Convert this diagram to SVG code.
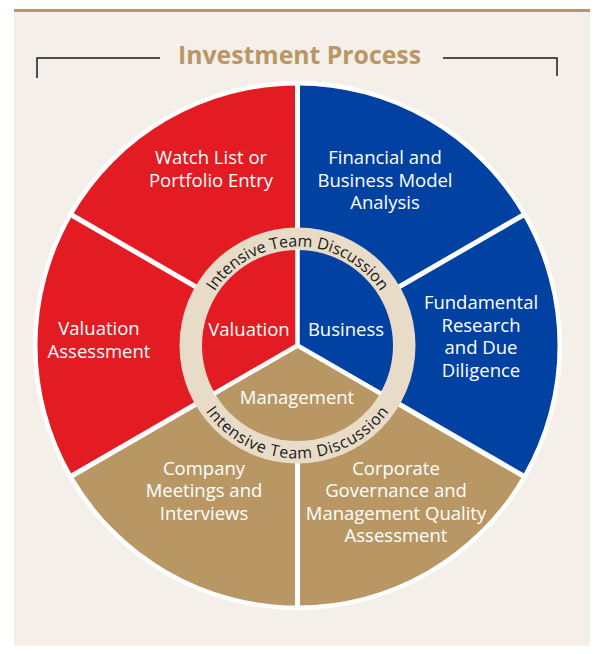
<svg xmlns="http://www.w3.org/2000/svg" xmlns:xlink="http://www.w3.org/1999/xlink" width="598" height="654" viewBox="0 0 598 654">
<style>
.lbl{font-family:"Open Sans","Noto Sans","Liberation Sans",sans-serif;font-size:18.5px;fill:#ffffff;text-anchor:middle}
.ring{font-family:"Open Sans","Noto Sans","Liberation Sans",sans-serif;font-size:16px;fill:#1a1a1a}
.div{stroke:#ffffff;stroke-width:5;fill:none}
.red{fill:#e31b23}
.blue{fill:#0041a2}
.tan{fill:#b99764}
</style>
<defs>
<path id="topArc" d="M198.5,345.5 A99,99 0 0 1 396.5,345.5"/>
<path id="botArc" d="M184.5,345.5 A113,113 0 0 0 410.5,345.5"/>
</defs>
<rect x="0" y="0" width="598" height="654" fill="#ffffff"/>
<rect x="14" y="10" width="576" height="636" fill="#f4efe8"/>
<rect x="14" y="9" width="576" height="3" fill="#b99764"/>
<g id="title">
<path d="M37,78 V58 H160 M443,58 H557 V76" stroke="#1a1a1a" stroke-width="1.5" fill="none"/>
<text x="299.5" y="64" font-family="'Open Sans','Noto Sans','Liberation Sans',sans-serif" font-size="25" font-weight="bold" fill="#b99764" text-anchor="middle" textLength="243" lengthAdjust="spacingAndGlyphs">Investment Process</text>
</g>
<circle cx="297.5" cy="345.5" r="264.5" fill="#ffffff"/>
<g id="outer-sectors">
<path class="red" d="M297.5,345.5 L297.5,85.5 A260,260 0 0 0 72.3,475.5 Z"/>
<path class="blue" d="M297.5,345.5 L297.5,85.5 A260,260 0 0 1 522.7,475.5 Z"/>
<path class="tan" d="M297.5,345.5 L522.7,475.5 A260,260 0 0 1 72.3,475.5 Z"/>
</g>
<g id="connectors">
<path class="div" d="M297.5,345.5 V82 M297.5,345.5 V609 M297.5,345.5 L526,213.5 M297.5,345.5 L526,477.5 M297.5,345.5 L69,213.5 M297.5,345.5 L69,477.5"/>
</g>
<circle cx="297.5" cy="345.5" r="118" fill="#e8dcc8"/>
<g id="inner-sectors">
<path class="red" d="M297.5,345.5 L297.5,250 A95.5,95.5 0 0 0 214.8,393.25 Z"/>
<path class="blue" d="M297.5,345.5 L297.5,250 A95.5,95.5 0 0 1 380.2,393.25 Z"/>
<path class="tan" d="M297.5,345.5 L380.2,393.25 A95.5,95.5 0 0 1 214.8,393.25 Z"/>
<path d="M297.5,345.5 V249 M297.5,345.5 L213.9,393.75 M297.5,345.5 L381.1,393.75" stroke="#ffffff" stroke-width="4.5" fill="none"/>
</g>
<g id="ring-text">
<text class="ring"><textPath xlink:href="#topArc" href="#topArc" startOffset="50%" text-anchor="middle">Intensive Team Discussion</textPath></text>
<text class="ring" letter-spacing="0.7"><textPath xlink:href="#botArc" href="#botArc" startOffset="50%" text-anchor="middle">Intensive Team Discussion</textPath></text>
</g>
<g id="node-watch"><text class="lbl" x="211" y="164">Watch List or</text><text class="lbl" x="211" y="187">Portfolio Entry</text></g>
<g id="node-financial"><text class="lbl" x="385" y="164">Financial and</text><text class="lbl" x="385" y="187">Business Model</text><text class="lbl" x="385" y="209">Analysis</text></g>
<g id="node-fundamental"><text class="lbl" x="481" y="309">Fundamental</text><text class="lbl" x="481" y="332">Research</text><text class="lbl" x="481" y="354">and Due</text><text class="lbl" x="481" y="377">Diligence</text></g>
<g id="node-valuation-assessment"><text class="lbl" x="99" y="335">Valuation</text><text class="lbl" x="99" y="358">Assessment</text></g>
<g id="node-company"><text class="lbl" x="204" y="475">Company</text><text class="lbl" x="204" y="497">Meetings and</text><text class="lbl" x="204" y="520">Interviews</text></g>
<g id="node-corporate"><text class="lbl" x="396" y="475">Corporate</text><text class="lbl" x="396" y="497">Governance and</text><text class="lbl" x="396" y="520">Management Quality</text><text class="lbl" x="396" y="542">Assessment</text></g>
<g id="node-valuation"><text class="lbl" x="249" y="336">Valuation</text></g>
<g id="node-business"><text class="lbl" x="346" y="336">Business</text></g>
<g id="node-management"><text class="lbl" x="297" y="404">Management</text></g>
</svg>
